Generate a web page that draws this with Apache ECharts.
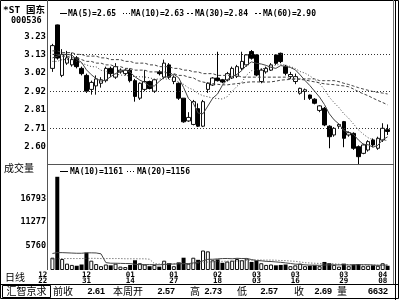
<!DOCTYPE html>
<html><head><meta charset="utf-8">
<script src="https://cdn.jsdelivr.net/npm/echarts@6/dist/echarts.min.js"></script>
<style>html,body{margin:0;padding:0;background:#fff}#c{width:400px;height:300px}</style>
</head><body><div id="c"></div>
<script>
// ---- data ----
const opens  = [3.05,3.298,3.01,3.08,3.07,3.11,3.05,3.01,2.93,2.95, 2.965,2.98,3.05,3.00,3.03,3.02,3.04,2.98,2.88,2.93, 2.975,2.92,3.03,3.00,3.07,2.975,2.965,2.88,2.75,2.73, 2.82,2.72,2.93,2.955,2.995,2.985,2.984,2.995,3.005,3.05, 3.07,3.146,3.127,2.975,3.03,3.04,3.127,3.136,3.06,3.003, 2.975,2.908,2.918,2.898,2.874,2.81,2.822,2.72,2.67,2.72, 2.746,2.67,2.679,2.603,2.565,2.584,2.641,2.594,2.641,2.70];
const closes = [3.18,3.109,3.13,3.11,3.10,3.06,3.02,2.92,2.97,2.99, 2.985,3.05,3.02,3.06,3.04,3.04,2.98,2.89,2.965,2.975, 2.935,2.985,3.02,3.08,3.00,3.00,2.88,2.745,2.77,2.86, 2.72,2.86,2.965,2.995,2.98,2.972,3.02,3.05,3.06,3.09, 3.127,3.108,3.012,3.04,3.05,3.07,3.079,3.089,3.022,3.015, 3.003,2.936,2.928,2.879,2.851,2.836,2.727,2.66,2.708,2.73, 2.651,2.683,2.594,2.546,2.613,2.632,2.613,2.651,2.708,2.69];
const lows   = [3.03,3.10,3.00,3.07,3.06,3.05,3.01,2.91,2.90,2.90, 2.94,2.97,3.00,2.99,3.02,3.01,2.97,2.86,2.87,2.92, 2.93,2.91,3.01,2.99,2.99,2.96,2.87,2.74,2.745,2.725, 2.715,2.715,2.91,2.95,2.975,2.965,2.975,2.99,2.995,3.04, 3.06,3.10,3.005,2.965,3.02,3.035,3.07,3.08,3.01,2.99, 2.96,2.90,2.87,2.87,2.845,2.80,2.72,2.594,2.66,2.71, 2.60,2.66,2.585,2.50,2.56,2.575,2.60,2.585,2.63,2.67];
const highs  = [3.19,3.30,3.16,3.15,3.14,3.12,3.06,3.02,2.98,3.01, 3.00,3.06,3.06,3.08,3.05,3.05,3.05,2.99,2.97,3.04, 2.98,2.99,3.04,3.10,3.08,3.01,2.97,2.88,2.80,2.87, 2.85,2.87,2.97,3.00,3.145,2.99,3.03,3.06,3.07,3.145, 3.13,3.155,3.13,3.05,3.06,3.08,3.13,3.14,3.07,3.03, 3.02,2.94,2.935,2.90,2.88,2.84,2.83,2.725,2.715,2.735, 2.75,2.69,2.685,2.61,2.62,2.64,2.65,2.66,2.737,2.73];
const volumes = [2900,22000,2600,1500,1200,1000,1300,4100,2200,1400, 900,1300,1100,1500,800,700,1200,2300,1600,1300, 900,1200,800,2200,1600,900,1800,2900,1500,2900, 2400,4600,4400,2300,2500,1700,2000,2200,2600,2300, 2700,1900,2200,1600,1200,1300,1100,1200,1300,900, 1100,1500,900,1000,1100,900,1900,1600,1200,800, 1500,900,1300,1400,900,1000,1100,1000,1600,1000];
const ma5  = [3.11,3.12,3.13,3.13,3.126,3.102,3.084,3.042,3.014,2.992, 2.977,2.983,3.003,3.021,3.031,3.042,3.028,3.002,2.983,2.970, 2.949,2.950,2.976,2.999,3.004,3.017,2.996,2.941,2.879,2.851, 2.795,2.791,2.835,2.880,2.904,2.954,2.986,3.003,3.016,3.038, 3.069,3.087,3.079,3.075,3.067,3.056,3.050,3.066,3.062,3.055, 3.042,3.013,2.981,2.952,2.919,2.886,2.844,2.791,2.756,2.732, 2.695,2.686,2.673,2.641,2.617,2.614,2.600,2.611,2.643,2.659];
const ma10 = [3.09,3.09,3.10,3.10,3.10,3.09,3.08,3.07,3.06,3.059, 3.039,3.034,3.023,3.018,3.012,3.010,3.006,3.003,3.002,3.001, 2.996,2.989,2.989,2.991,2.987,2.983,2.973,2.959,2.939,2.928, 2.906,2.894,2.888,2.880,2.878,2.875,2.889,2.919,2.948,2.971, 3.012,3.037,3.041,3.046,3.053,3.063,3.069,3.073,3.069,3.061, 3.049,3.032,3.023,3.007,2.987,2.964,2.929,2.886,2.854,2.826, 2.791,2.765,2.732,2.699,2.675,2.654,2.643,2.642,2.642,2.638];
const ma30 = [3.13,3.13,3.12,3.12,3.11,3.11,3.10,3.09,3.09,3.08, 3.08,3.07,3.07,3.06,3.06,3.05,3.05,3.04,3.04,3.04, 3.03,3.03,3.03,3.03,3.02,3.02,3.01,3.01,3.00,2.996, 2.980,2.972,2.967,2.963,2.959,2.956,2.956,2.960,2.963,2.966, 2.971,2.973,2.973,2.972,2.972,2.973,2.977,2.983,2.985,2.987, 2.989,2.987,2.984,2.978,2.973,2.967,2.962,2.959,2.957,2.953, 2.950,2.945,2.932,2.917,2.905,2.894,2.880,2.867,2.855,2.842];
const ma60 = [3.15,3.15,3.14,3.14,3.14,3.13,3.13,3.12,3.12,3.12, 3.11,3.11,3.10,3.10,3.10,3.09,3.09,3.08,3.08,3.08, 3.07,3.07,3.06,3.06,3.06,3.05,3.05,3.04,3.04,3.03, 3.03,3.02,3.02,3.02,3.01,3.01,3.01,3.01,3.01,3.00, 3.00,3.00,3.00,3.00,3.00,3.00,3.00,3.00,3.00,2.99, 2.99,2.99,2.99,2.99,2.99,2.98,2.98,2.98,2.98,2.974, 2.965,2.958,2.949,2.940,2.932,2.925,2.918,2.913,2.909,2.904];
const volMa10 = [3900,4100,4100,4050,4000,3950,3950,4050,4050,4020, 3820,1750,1600,1600,1560,1530,1520,1340,1280,1270, 1270,1260,1230,1300,1380,1400,1460,1520,1510,1670, 1820,2160,2520,2530,2620,2700,2720,2650,2760,2700, 2730,2460,2240,2170,2040,2000,1910,1810,1680,1540, 1380,1340,1210,1150,1140,1100,1180,1220,1210,1200, 1240,1180,1220,1260,1240,1250,1170,1100,1140,1160];
const volMa20 = [2550,2650,2700,2700,2700,2700,2700,2750,2750,2750, 2700,2700,2700,2700,2700,2650,2650,2650,2650,2645, 2545,1505,1415,1450,1470,1465,1490,1430,1395,1470, 1545,1710,1875,1915,2000,2050,2090,2085,2135,2185, 2275,2310,2380,2350,2330,2350,2315,2230,2220,2120, 2055,1900,1725,1660,1590,1550,1545,1515,1445,1370, 1310,1260,1215,1205,1190,1175,1175,1165,1180,1165];
const priceTicks = [2.603,2.708,2.813,2.918,3.023,3.128,3.233];
const priceGridLines = [2.708,2.918,3.128];
const volTicks = [5760,11277,16793];
const dateIdx  = [-2,7,16,25,34,42,50,60,68];
const dateText = ['12\n22','12\n31','01\n14','01\n27','02\n18','03\n03','03\n16','03\n29','04\n08'];
const maNames = ['MA(5)','MA(10)','MA(30)','MA(60)'];
const maLast  = ['2.65','2.63','2.84','2.90'];
const volMaNames = ['MA(10)','MA(20)'];
const volMaLast  = ['1161','1156'];
const stockName = '*ST 国东', stockCode = '000536';
const statLabels = ['前收','本周开','高','低','收','量'];
const statValues = ['2.61','2.57','2.73','2.57','2.69','6632'];

// ---- drawing ----
const MONO = '"DejaVu Sans Mono", monospace';
const CJK = '"Noto Sans CJK SC", sans-serif';
const cats = closes.map((_, i) => i);
const candle = opens.map((o, i) => [o, closes[i], lows[i], highs[i]]);
const volData = volumes.map((v, i) => ({
  value: v,
  itemStyle: closes[i] >= opens[i] ? {color:'#fff', borderColor:'#111', borderWidth:1} : {color:'#000', borderColor:'#000', borderWidth:0}
}));
const LC = '#444';
const T = (text, x, y, font, align) => ({type:'text', x, y, silent:true, z:10,
  style:{text, font, fill:'#000', align: align || 'left', verticalAlign:'middle'}});
const Ln = (x1, y1, x2, y2, stroke, dash) => ({type:'line', silent:true, z:10,
  shape:{x1, y1, x2, y2}, style:{stroke, lineWidth:1, lineDash: dash || null}});

const g = [];
// frames
g.push({type:'rect', silent:true, z:10, shape:{x:0.5, y:0.5, width:398, height:298}, style:{fill:null, stroke:'#000', lineWidth:1}});
g.push(Ln(395.5, 0, 395.5, 300, '#000'));
g.push(Ln(393.5, 0, 393.5, 284, '#777'));
g.push(Ln(47.5, 0, 47.5, 270, '#555'));
g.push(Ln(47, 164.5, 394, 164.5, '#555'));
g.push(Ln(0, 284.5, 399, 284.5, '#000'));
g.push({type:'rect', silent:true, z:10, shape:{x:2.5, y:285.5, width:48, height:12}, style:{fill:null, stroke:'#000', lineWidth:1}});
// left column texts
g.push(T(stockName, 3, 11, 'bold 9.5px ' + MONO + ',' + CJK));
g.push(T(stockCode, 11, 20.5, 'bold 8.5px ' + MONO));
g.push(T('成交量', 4, 168, '10px ' + CJK));
g.push(T('日线', 5, 277, '10px ' + CJK));
// price legend
const legSym = [[60,null],[123,[1,2]],[187,[2,2]],[255,[2,2]]];
maNames.forEach((n, k) => {
  const sx = legSym[k][0];
  g.push(Ln(sx, 13.5, sx + 7, 13.5, '#000', legSym[k][1]));
  g.push(T(n + '=' + maLast[k], sx + 8, 13.5, 'bold 8px ' + MONO));
});
// volume legend
const vSym = [[60,null],[127,[1,2]]];
volMaNames.forEach((n, k) => {
  const sx = vSym[k][0];
  g.push(Ln(sx, 171.5, sx + 8, 171.5, '#000', vSym[k][1]));
  g.push(T(n + '=' + volMaLast[k], sx + 10, 171.5, 'bold 8px ' + MONO));
});
// bottom status row
g.push(T('汇智京求', 26.5, 291.5, '10px ' + CJK, 'center'));
const labX = [53, 113, 190, 237, 294, 337];
const valX = [105, 175, 222, 278, 332, 388];
statLabels.forEach((s, k) => {
  g.push(T(s, labX[k], 291.5, '10px ' + CJK));
  g.push(T(statValues[k], valX[k], 291.5, 'bold 9px "Liberation Sans", sans-serif', 'right'));
});

const BW = 340 / closes.length;
const option = {
  animation: false,
  backgroundColor: '#fff',
  grid: [
    {left: 50, width: 340, top: 18, height: 146},
    {left: 50, width: 340, top: 165, height: 105},
    {left: 50 - 10 * BW, width: 80 * BW, top: 269, height: 1}
  ],
  xAxis: [
    {type:'category', data: cats, gridIndex: 0, show: false, boundaryGap: true},
    {type:'category', data: cats, gridIndex: 1, show: false, boundaryGap: true},
    {type:'value', gridIndex: 2, min: -10.5, max: closes.length - 0.5,
     axisLine:{show:false}, axisTick:{show:false}, splitLine:{show:false},
     axisLabel:{customValues: dateIdx, formatter: v => dateText[dateIdx.indexOf(v)] || '',
       fontSize: 7.5, lineHeight: 6, margin: 2, fontWeight: 'bold', fontFamily: MONO, color:'#000'}}
  ],
  yAxis: [
    {type:'value', gridIndex: 0, min: 2.5042, max: 3.3376, scale: true,
     axisLine:{show:false}, axisTick:{show:false}, splitLine:{show:false},
     axisLabel:{customValues: priceTicks, formatter: v => v.toFixed(2), margin: 4,
       fontSize: 9, fontWeight:'bold', fontFamily: MONO, color:'#000'}},
    {type:'value', gridIndex: 1, min: 0, max: 24780,
     axisLine:{show:false}, axisTick:{show:false}, splitLine:{show:false},
     axisLabel:{customValues: volTicks, formatter: v => String(v), margin: 4,
       fontSize: 8.5, fontWeight:'bold', fontFamily: MONO, color:'#000'}},
    {type:'value', gridIndex: 2, show: false}
  ],
  series: [
    {type:'candlestick', xAxisIndex:0, yAxisIndex:0, data: candle, barWidth: 4,
     itemStyle:{color:'#fff', color0:'#000', borderColor:'#111', borderColor0:'#000', borderWidth:1},
     markLine:{silent:true, symbol:['none','none'], label:{show:false},
       lineStyle:{type:[1,2], color:'#333', width:1},
       data: priceGridLines.map(v => ({yAxis: v}))}},
    {type:'line', xAxisIndex:0, yAxisIndex:0, data: ma5, showSymbol:false, lineStyle:{color:LC, width:1}},
    {type:'line', xAxisIndex:0, yAxisIndex:0, data: ma10, showSymbol:false, lineStyle:{color:LC, width:1, type:[1,2]}},
    {type:'line', xAxisIndex:0, yAxisIndex:0, data: ma30, showSymbol:false, lineStyle:{color:LC, width:1, type:[3,2]}},
    {type:'line', xAxisIndex:0, yAxisIndex:0, data: ma60, showSymbol:false, lineStyle:{color:LC, width:1, type:[3,2]}},
    {type:'bar', xAxisIndex:1, yAxisIndex:1, data: volData, barWidth: 4},
    {type:'line', xAxisIndex:1, yAxisIndex:1, data: volMa10, showSymbol:false, lineStyle:{color:LC, width:1}},
    {type:'line', xAxisIndex:1, yAxisIndex:1, data: volMa20, showSymbol:false, lineStyle:{color:LC, width:1, type:[1,2]}}
  ],
  graphic: g
};
const chart = echarts.init(document.getElementById('c'));
chart.setOption(option);
</script>
</body></html>
